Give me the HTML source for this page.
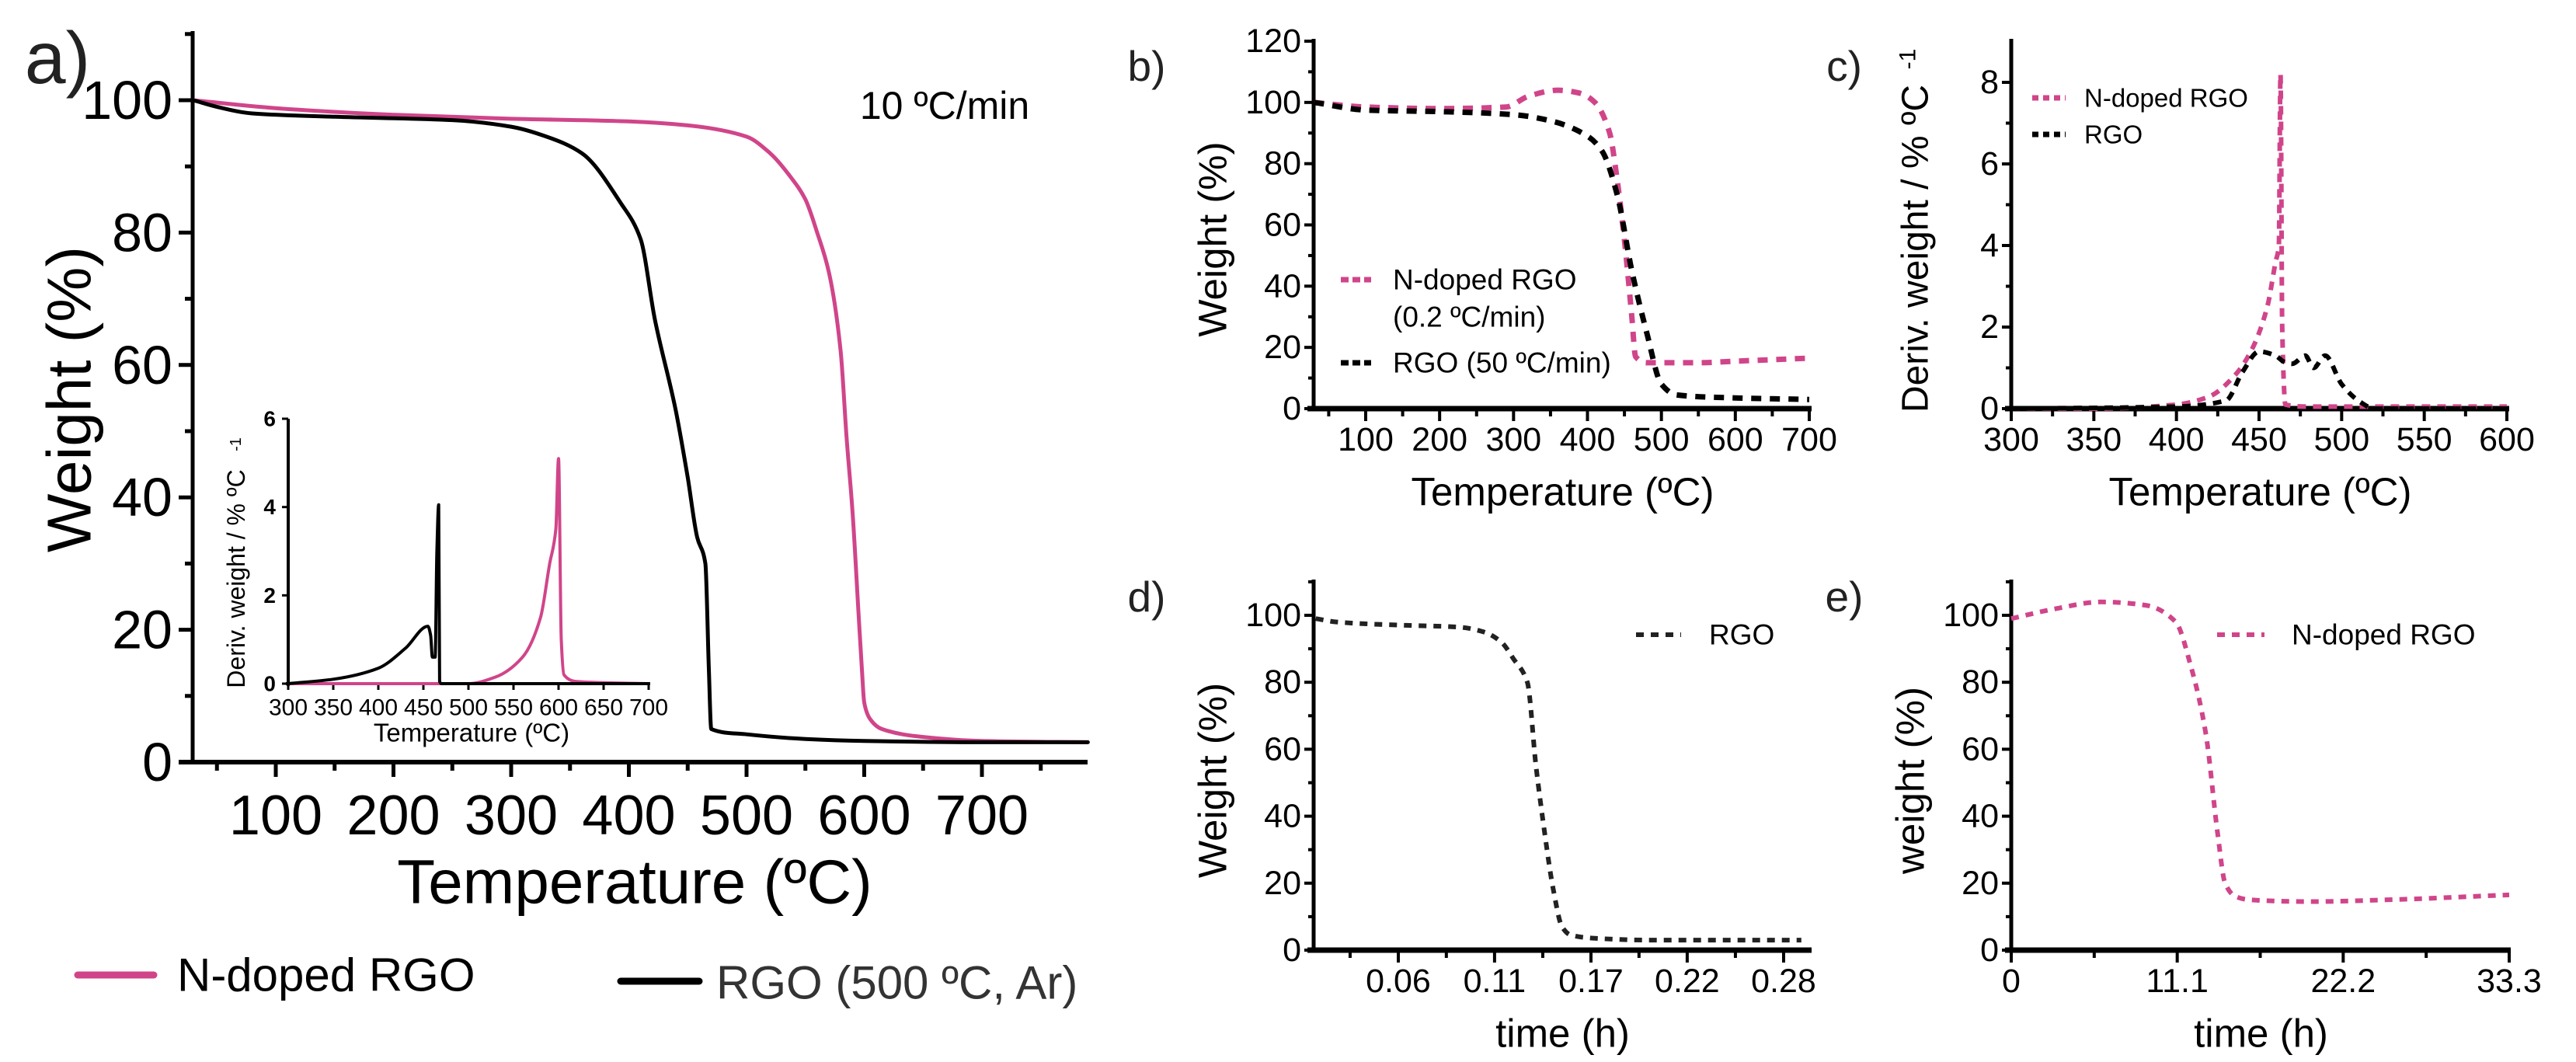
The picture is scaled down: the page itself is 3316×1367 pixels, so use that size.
<!DOCTYPE html>
<html><head><meta charset="utf-8"><style>
html,body{margin:0;padding:0;background:#fff;}
svg{display:block;font-family:"Liberation Sans",Arial,sans-serif;}
</style></head><body>
<svg id="fig" width="3316" height="1367" viewBox="0 0 3316 1367" xmlns="http://www.w3.org/2000/svg">
<g id="root"></g>
</svg>
<script>
// ---- data ----
const aNdT = [30,100,200,300,400,450,500,520,537,550,560,570,580,585,590,595,598,600,605,615,650,700,790];
const aNdW = [100,98.8,97.8,97.2,96.8,96.2,94.5,92,88.5,85,80,74,62,49,38,23,14,9,6.5,5,3.8,3.2,3];
const aRgT = [30,50,80,150,250,300,330,360,393,410,422,440,450,458,465,468,470,500,550,600,700,790];
const aRgW = [100,99,98,97.5,97,96,94.5,92,84.5,79,67,53,43,34,30,14,5,4.2,3.5,3.2,3,3];
const inRgT = [300,350,400,430,455,458,460,463,465,467,468,470,700];
const inRgD = [0,0.1,0.35,0.8,1.3,1.1,0.6,0.6,3.0,4.05,0.05,0,0];
const inNdT = [300,500,530,560,580,590,597,600,603,606,620,700];
const inNdD = [0,0,0.15,0.6,1.5,2.7,3.5,5.1,1.0,0.2,0.05,0];
const bNdT = [30,100,200,290,320,360,390,410,430,440,450,460,465,480,550,600,700];
const bNdW = [100,98.5,98,98.5,102,104,103,100,90,75,55,30,17,15,15,15.5,16.5];
const bRgT = [30,100,200,300,350,400,420,440,460,480,500,520,600,700];
const bRgW = [100,97.5,97,96,94,89,84,70,45,25,8,4.5,3.5,3];
const cNdT = [300,350,400,420,435,445,455,460,462,463,464,466,480,600];
const cNdD = [0,0,0.1,0.3,0.8,1.4,2.5,3.6,4.0,8.2,2.0,0.1,0.05,0.05];
const cRgT = [300,400,430,440,450,460,465,470,478,483,490,500,510,520,600];
const cRgD = [0,0.05,0.2,0.9,1.4,1.3,1.15,1.1,1.3,1.0,1.3,0.6,0.2,0,0];
const dT = [0.008,0.02,0.06,0.09,0.105,0.115,0.122,0.13,0.135,0.14,0.145,0.15,0.155,0.17,0.2,0.288];
const dW = [99,98,97,96.5,95,92,87,80,55,35,18,7,4.5,3.5,3,3];
const eT = [0,3,6,9,11,12,13,13.8,14.3,15,16,20,25,33.3];
const eW = [99,102,104,103,98,85,65,35,20,16,15,14.5,15,16.5];
const aXT = [100,200,300,400,500,600,700];
const aYT = [0,20,40,60,80,100];
const inXT = [300,350,400,450,500,550,600,650,700];
const inYT = [0,2,4,6];
const bXT = [100,200,300,400,500,600,700];
const bYT = [0,20,40,60,80,100,120];
const cXT = [300,350,400,450,500,550,600];
const cYT = [0,2,4,6,8];
const dXT = [0.0556,0.1111,0.1667,0.2222,0.2778];
const dXL = ["0.06","0.11","0.17","0.22","0.28"];
const dYT = [0,20,40,60,80,100];
const eXT = [0,11.1,22.2,33.3];
const eYT = [0,20,40,60,80,100];

const NS="http://www.w3.org/2000/svg";
const root=document.getElementById('root');
const PINK="#d0458a";
function mk(tag,attrs,parent){const e=document.createElementNS(NS,tag);for(const k in attrs)e.setAttribute(k,attrs[k]);(parent||root).appendChild(e);return e;}
function txt(s,x,y,size,anchor,parent,extra){const t=mk('text',Object.assign({x:x,y:y,'font-size':size,'text-anchor':anchor||'middle','dominant-baseline':'central',fill:'#000'},extra||{}),parent);t.textContent=s;return t;}
function scale(d0,d1,p0,p1){return v=>p0+(v-d0)/(d1-d0)*(p1-p0);}
function monoPath(P){
  const n=P.length;if(n<3){return 'M'+P.map(p=>p[0].toFixed(1)+','+p[1].toFixed(1)).join('L');}
  const dx=[],m=[],t=[];
  for(let i=0;i<n-1;i++){dx[i]=P[i+1][0]-P[i][0];m[i]=dx[i]===0?0:(P[i+1][1]-P[i][1])/dx[i];}
  t[0]=m[0];t[n-1]=m[n-2];
  for(let i=1;i<n-1;i++){t[i]=(m[i-1]*m[i]<=0)?0:(3*(dx[i-1]+dx[i]))/((2*dx[i]+dx[i-1])/m[i-1]+(dx[i]+2*dx[i-1])/m[i]);}
  let d='M'+P[0][0].toFixed(1)+','+P[0][1].toFixed(1);
  for(let i=0;i<n-1;i++){const h=dx[i]/3;
    d+='C'+(P[i][0]+h).toFixed(1)+','+(P[i][1]+t[i]*h).toFixed(1)+' '+(P[i+1][0]-h).toFixed(1)+','+(P[i+1][1]-t[i+1]*h).toFixed(1)+' '+P[i+1][0].toFixed(1)+','+P[i+1][1].toFixed(1);}
  return d;
}
function line(xs,ys,sx,sy,stroke,w,dash,name,parent){
  const P=xs.map((x,i)=>[sx(x),sy(ys[i])]);
  const p=mk('path',{d:monoPath(P),fill:'none',stroke:stroke,'stroke-width':w,'stroke-linejoin':'round','stroke-linecap':dash?'butt':'round'},parent);
  if(dash)p.setAttribute('stroke-dasharray',dash);
  
  
  return p;
}

// ---------- Panel a ----------
const ga=mk('g',{});


const ax=scale(100,700,355,1264), ay=scale(0,100,981,129);
mk('line',{x1:248,y1:40,x2:248,y2:984,stroke:'#000','stroke-width':5},ga);
mk('line',{x1:230,y1:981,x2:1400,y2:981,stroke:'#000','stroke-width':6},ga);
for(let v=50;v<=790;v+=50){const x=ax(v);mk('line',{x1:x,y1:981,x2:x,y2:v%100==0?1000:992,stroke:'#000','stroke-width':5},ga);}
for(let v=0;v<=110;v+=10){const y=ay(v);mk('line',{x1:248,y1:y,x2:v%20==0?230:238,y2:y,stroke:'#000','stroke-width':5},ga);}
aXT.forEach(v=>{const t=txt(String(v),ax(v),1050,72,'middle',ga);});
aYT.forEach(v=>{const t=txt(String(v),222,ay(v),70,'end',ga);});
line(aNdT,aNdW,ax,ay,PINK,5,null,'a-series-n-doped-rgo',ga);
line(aRgT,aRgW,ax,ay,'#000',5,null,'a-series-rgo',ga);
let t;
t=txt('a)',74,75,95,'middle',ga,{fill:'#222'});
t=txt('10 ºC/min',1216,136,50,'middle',ga);
t=txt('Temperature (ºC)',817,1135,80,'middle',ga);
t=txt('Weight (%)',89,514,80,'middle',ga,{transform:'rotate(-90 89 514)'});
// inset
const ix=scale(300,700,371,835), iy=scale(0,6,880,539);
mk('line',{x1:371,y1:539,x2:371,y2:883,stroke:'#000','stroke-width':4},ga);
mk('line',{x1:368,y1:880,x2:837,y2:880,stroke:'#000','stroke-width':4},ga);
inXT.forEach(v=>{mk('line',{x1:ix(v),y1:880,x2:ix(v),y2:888,stroke:'#000','stroke-width':3},ga);const tt=txt(String(v),ix(v),911,30,'middle',ga);});
inYT.forEach(v=>{mk('line',{x1:363,y1:iy(v),x2:371,y2:iy(v),stroke:'#000','stroke-width':3},ga);const tt=txt(String(v),355,iy(v),28,'end',ga,{'font-weight':'bold'});});
line(inNdT,inNdD,ix,iy,PINK,4,null,'inset-series-n-doped-rgo',ga);
line(inRgT,inRgD,ix,iy,'#000',4,null,'inset-series-rgo',ga);
t=txt('Temperature (ºC)',607,943,33,'middle',ga);
t=txt('Deriv. weight / % ºC',304,745,32,'middle',ga,{transform:'rotate(-90 304 745)'});
t=txt('-1',304,572,20,'middle',ga,{transform:'rotate(-90 304 572)'});
// legend
mk('line',{x1:100,y1:1255,x2:198,y2:1255,stroke:PINK,'stroke-width':9,'stroke-linecap':'round'},ga);
t=txt('N-doped RGO',228,1255,60,'start',ga);
mk('line',{x1:799,y1:1263,x2:900,y2:1263,stroke:'#000','stroke-width':9,'stroke-linecap':'round'},ga);
t=txt('RGO (500 ºC, Ar)',922,1265,60,'start',ga,{fill:'#333'});

// ---------- generic small panel ----------
function panel(name,X0,Yb,Ytop,xs,ys,xticks,xlabels,minorX,yticks,minorY,xtitle,ytitle,letter,letterY,xEnd){
  const g=mk('g',{});
  
  
  mk('line',{x1:X0,y1:Ytop,x2:X0,y2:Yb+3,stroke:'#000','stroke-width':5},g);
  mk('line',{x1:X0-8,y1:Yb,x2:xEnd,y2:Yb,stroke:'#000','stroke-width':7},g);
  minorX.forEach(v=>mk('line',{x1:xs(v),y1:Yb,x2:xs(v),y2:Yb+10,stroke:'#000','stroke-width':4},g));
  xticks.forEach((v,i)=>{mk('line',{x1:xs(v),y1:Yb,x2:xs(v),y2:Yb+16,stroke:'#000','stroke-width':4},g);
    const tt=txt(xlabels[i],xs(v),Yb+40,43,'middle',g);});
  minorY.forEach(v=>mk('line',{x1:X0,y1:ys(v),x2:X0-7,y2:ys(v),stroke:'#000','stroke-width':4},g));
  yticks.forEach(v=>{mk('line',{x1:X0,y1:ys(v),x2:X0-12,y2:ys(v),stroke:'#000','stroke-width':4},g);
    const tt=txt(String(v),X0-16,ys(v),43,'end',g);});
  const xc=(X0+xEnd)/2;
  let a=txt(xtitle,xc,Yb+107,51,'middle',g);
  const ly=(Ytop+Yb)/2+20;
  a=txt(ytitle,X0-130,ly,51,'middle',g,{transform:'rotate(-90 '+(X0-130)+' '+ly+')'});
  a=txt(letter,X0-215,letterY,55,'middle',g,{fill:'#222'});
  return g;
}
function range(a,b,s){const r=[];for(let v=a;v<=b+1e-9;v+=s)r.push(+v.toFixed(4));return r;}

// Panel b
const bx=scale(100,700,1758,2329), by=scale(0,120,526,53);
const gb=panel('panel-b',1691,526,50,bx,by,bXT,bXT.map(String),range(50,650,100),bYT,range(10,110,20),'Temperature (ºC)','Weight (%)','b)',85,2332);
line(bNdT,bNdW,bx,by,PINK,7,'13 11','b-series-n-doped-rgo',gb);
line(bRgT,bRgW,bx,by,'#000',7,'13 11','b-series-rgo',gb);
mk('line',{x1:1726,y1:360,x2:1765,y2:360,stroke:PINK,'stroke-width':7,'stroke-dasharray':'10 5'},gb);
t=txt('N-doped RGO',1793,360,37,'start',gb);
t=txt('(0.2 ºC/min)',1793,408,37,'start',gb);
mk('line',{x1:1726,y1:467,x2:1765,y2:467,stroke:'#000','stroke-width':7,'stroke-dasharray':'10 5'},gb);
t=txt('RGO (50 ºC/min)',1793,467,37,'start',gb);

// Panel c
const cx=scale(300,600,2589,3227), cy=scale(0,8,526,106);
const gc=panel('panel-c',2589,526,50,cx,cy,cXT,cXT.map(String),range(325,575,50),cYT,range(1,7,2),'Temperature (ºC)','','c)',85,3230);
line(cNdT,cNdD,cx,cy,PINK,6,'11 9','c-series-n-doped-rgo',gc);
line(cRgT,cRgD,cx,cy,'#000',6,'11 9','c-series-rgo',gc);
t=txt('Deriv. weight / % ºC',2466,320,48,'middle',gc,{transform:'rotate(-90 2466 320)'});
t=txt('-1',2456,76,30,'middle',gc,{transform:'rotate(-90 2456 76)'});
mk('line',{x1:2616,y1:126,x2:2659,y2:126,stroke:PINK,'stroke-width':7,'stroke-dasharray':'8 6'},gc);
t=txt('N-doped RGO',2683,126,33,'start',gc);
mk('line',{x1:2616,y1:173,x2:2659,y2:173,stroke:'#000','stroke-width':7,'stroke-dasharray':'8 6'},gc);
t=txt('RGO',2683,173,33,'start',gc);

// Panel d
const dx=scale(0.0556,0.2778,1800,2296), dy=scale(0,100,1223,792);
const gd=panel('panel-d',1691,1223,746,dx,dy,dXT,dXL,[0.0278,0.0833,0.1389,0.1944,0.25],dYT,range(10,110,20),'time (h)','Weight (%)','d)',768,2332);
line(dT,dW,dx,dy,'#222',6,'10 9','d-series-rgo',gd);
mk('line',{x1:2106,y1:817,x2:2164,y2:817,stroke:'#222','stroke-width':6,'stroke-dasharray':'10 9'},gd);
t=txt('RGO',2200,817,37,'start',gd);

// Panel e
const ex=scale(0,33.3,2589,3230), ey=scale(0,100,1223,792);
const ge=panel('panel-e',2589,1223,746,ex,ey,eXT,eXT.map(String),[5.55,16.65,27.75],eYT,range(10,110,20),'time (h)','weight (%)','e)',768,3232);
line(eT,eW,ex,ey,PINK,6,'10 9','e-series-n-doped-rgo',ge);
mk('line',{x1:2854,y1:817,x2:2915,y2:817,stroke:PINK,'stroke-width':6,'stroke-dasharray':'10 9'},ge);
t=txt('N-doped RGO',2950,817,37,'start',ge);
</script>
</body></html>
